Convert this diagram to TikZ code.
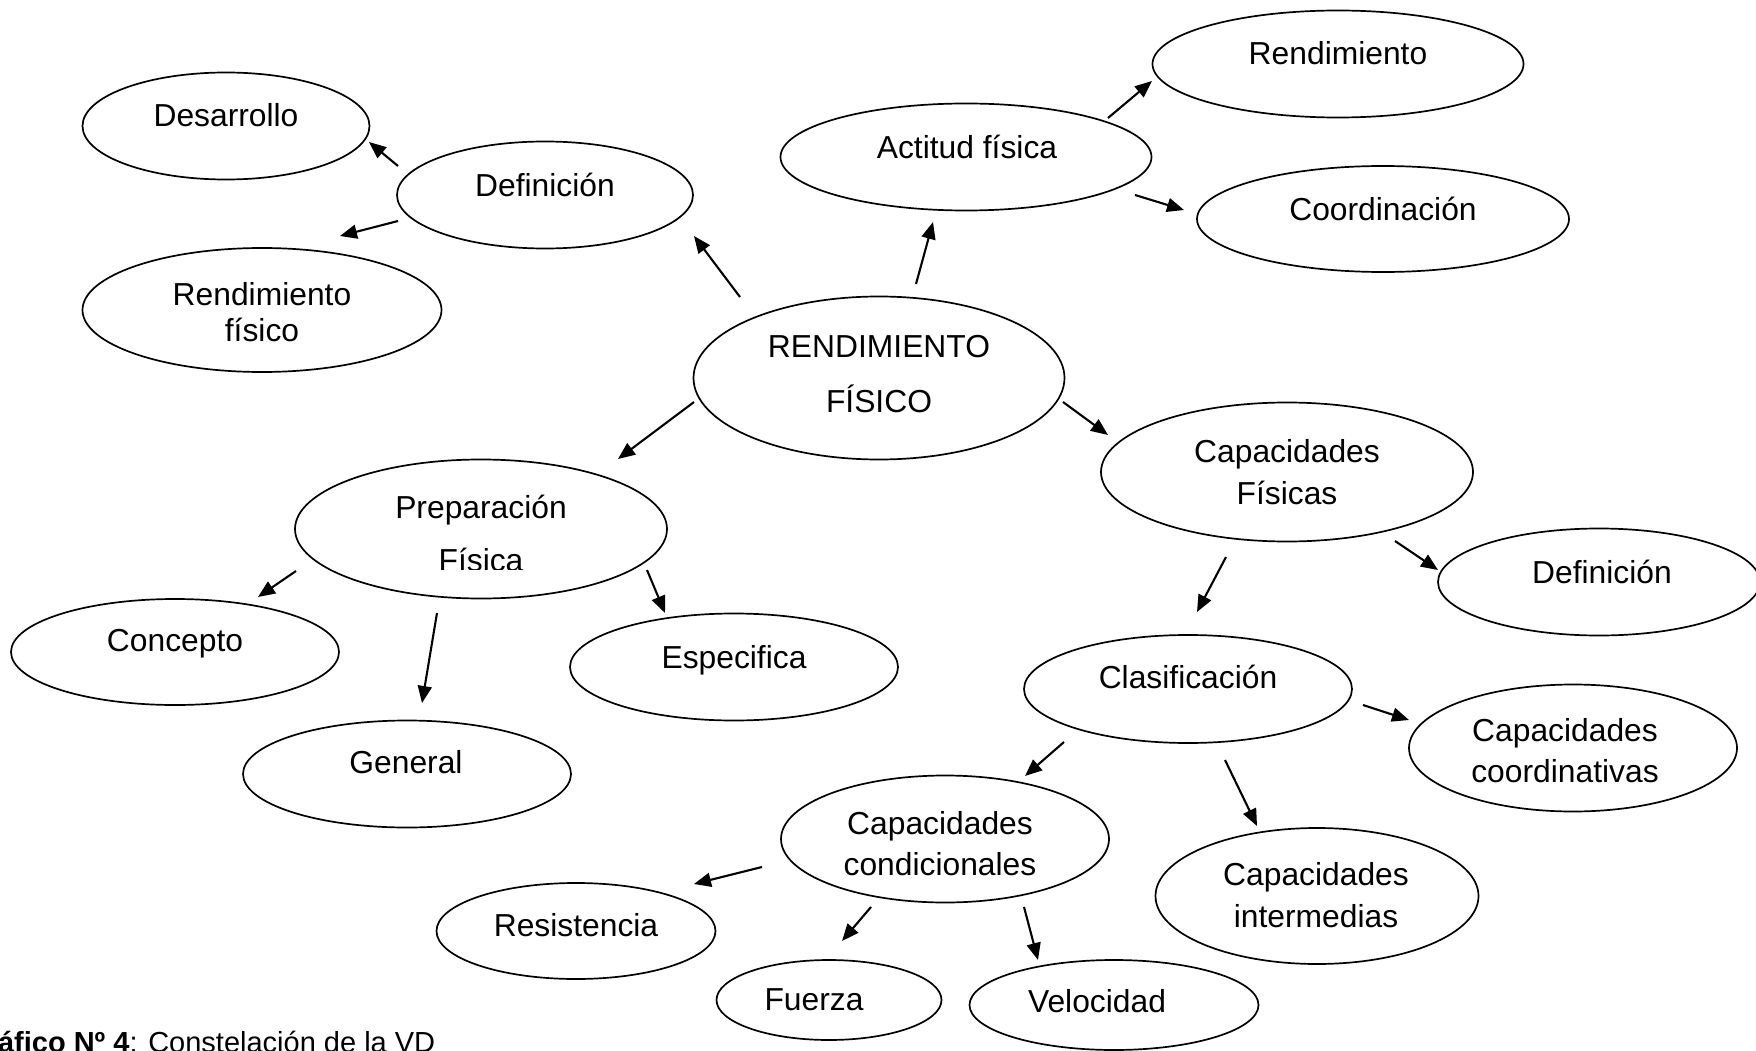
\documentclass[tikz,border=0pt]{standalone}
\usepackage{fontspec}
\setmainfont{Liberation Sans}
\usetikzlibrary{shapes.geometric,arrows.meta}

\tikzset{
  bubble/.style n args={2}{draw, ellipse, line width=1.7pt, inner sep=0pt,
    minimum width=#1pt, minimum height=#2pt},
  lbl/.style={anchor=base, inner sep=0pt, font=\fontsize{31.8}{38}\selectfont},
  arr/.style={-{Triangle[length=17pt,width=14pt]}, line width=2.1pt},
}

\begin{document}
\begin{tikzpicture}[x=1pt, y=-1pt]
\useasboundingbox (0,0) rectangle (1756,1051);
\clip (0,0) rectangle (1756,1051);

% ---- ellipses ----
\node[bubble={287}{107}] (desa) at (226,126) {};
\node[bubble={296}{107}] (defl) at (545,195) {};
\node[bubble={359}{124}] (rfis) at (262,310) {};
\node[bubble={371}{107}] (act)  at (966,157) {};
\node[bubble={371}{107}] (rend) at (1338,64) {};
\node[bubble={372}{106}] (coor) at (1383,219) {};
\node[bubble={371}{163}] (main) at (879,378) {};
\node[bubble={372}{139}] (capf) at (1287,472) {};
\node[bubble={372}{139}] (prep) at (481,529) {};
\node[bubble={328}{106}] (conc) at (175,652) {};
\node[bubble={328}{107}] (gen)  at (407,774) {};
\node[bubble={328}{107}] (esp)  at (734,667) {};
\node[bubble={322}{107}] (defr) at (1599,582) {};
\node[bubble={328}{108}] (clas) at (1188,689) {};
\node[bubble={328}{127}] (ccoo) at (1573,748) {};
\node[bubble={328}{127}] (ccon) at (945,839) {};
\node[bubble={323}{136}] (cint) at (1317,896) {};
\node[bubble={279}{96}]  (resi) at (576,931) {};
\node[bubble={225}{80}]  (fuer) at (829,1000) {};
\node[bubble={289}{90}]  (velo) at (1114,1005) {};

% ---- labels ----
\node[lbl] (desaT) at (226,126.5) {Desarrollo};
\node[lbl] (deflT) at (545,196.5) {Definición};
\node[lbl] (rfisT1) at (262,305.5) {Rendimiento};
\node[lbl] (rfisT2) at (262,341.5) {físico};
\node[lbl] (actT) at (967,158.5) {Actitud física};
\node[lbl] (rendT) at (1338,64.5) {Rendimiento};
\node[lbl] (coorT) at (1383,220.5) {Coordinación};
\node[lbl] (mainT1) at (879,357.5) {RENDIMIENTO};
\node[lbl] (mainT2) at (879,412.5) {FÍSICO};
\node[lbl] (capfT1) at (1287,462.5) {Capacidades};
\node[lbl] (capfT2) at (1287,504.5) {Físicas};
\node[lbl] (prepT1) at (481,518.5) {Preparación};
\begin{scope}
  \clip (290,480) rectangle (680,569);
  \node[lbl] (prepT2) at (481,571.5) {Física};
\end{scope}
\node[lbl] (concT) at (175,651.5) {Concepto};
\node[lbl] (genT) at (406,773.5) {General};
\node[lbl] (espT) at (734,668.5) {Especifica};
\node[lbl] (defrT) at (1602,583.5) {Definición};
\node[lbl] (clasT) at (1188,688.5) {Clasificación};
\node[lbl] (ccooT1) at (1565,741.5) {Capacidades};
\node[lbl] (ccooT2) at (1565,782.5) {coordinativas};
\node[lbl] (cconT1) at (940,834.5) {Capacidades};
\node[lbl] (cconT2) at (940,875.5) {condicionales};
\node[lbl] (cintT1) at (1316,885.5) {Capacidades};
\node[lbl] (cintT2) at (1316,927.5) {intermedias};
\node[lbl] (resiT) at (576,936.5) {Resistencia};
\node[lbl] (fuerT) at (814,1010.5) {Fuerza};
\node[lbl] (veloT) at (1097,1012.5) {Velocidad};

% ---- arrow end points ----
\coordinate (a1s) at (398,166);   \coordinate (a1e) at (369,142);
\coordinate (a2s) at (398,221);   \coordinate (a2e) at (340,236);
\coordinate (a3s) at (740,297);   \coordinate (a3e) at (694,236);
\coordinate (a4s) at (916,284);   \coordinate (a4e) at (933,222);
\coordinate (a5s) at (694,402);   \coordinate (a5e) at (618,459);
\coordinate (a6s) at (1063,402);  \coordinate (a6e) at (1108,435);
\coordinate (a7s) at (1108,118);  \coordinate (a7e) at (1152,81);
\coordinate (a8s) at (1135,195);  \coordinate (a8e) at (1184,210);
\coordinate (a9s) at (296,571);   \coordinate (a9e) at (258,597);
\coordinate (a10s) at (437,613);  \coordinate (a10e) at (422,703);
\coordinate (a11s) at (647,570);  \coordinate (a11e) at (665,613);
\coordinate (a12s) at (1226,557); \coordinate (a12e) at (1197,612);
\coordinate (a13s) at (1395,541); \coordinate (a13e) at (1438,570);
\coordinate (a14s) at (1363,705); \coordinate (a14e) at (1409,720);
\coordinate (a15s) at (1225,760); \coordinate (a15e) at (1257,826);
\coordinate (a16s) at (1064,742); \coordinate (a16e) at (1025,776);
\coordinate (a17s) at (762,867);  \coordinate (a17e) at (694,884);
\coordinate (a18s) at (871,907);  \coordinate (a18e) at (842,941);
\coordinate (a19s) at (1024,907); \coordinate (a19e) at (1038,960);

% ---- arrows ----
\foreach \i in {1,...,19} {
  \draw[arr] (a\i s) -- (a\i e);
}

% ---- caption ----
\node[anchor=base west, inner sep=0pt, font=\fontsize{29}{35}\selectfont]
  (caption) at (-36,1052) {\textbf{Gráfico Nº 4}: Constelación de la VD};
\end{tikzpicture}
\end{document}
